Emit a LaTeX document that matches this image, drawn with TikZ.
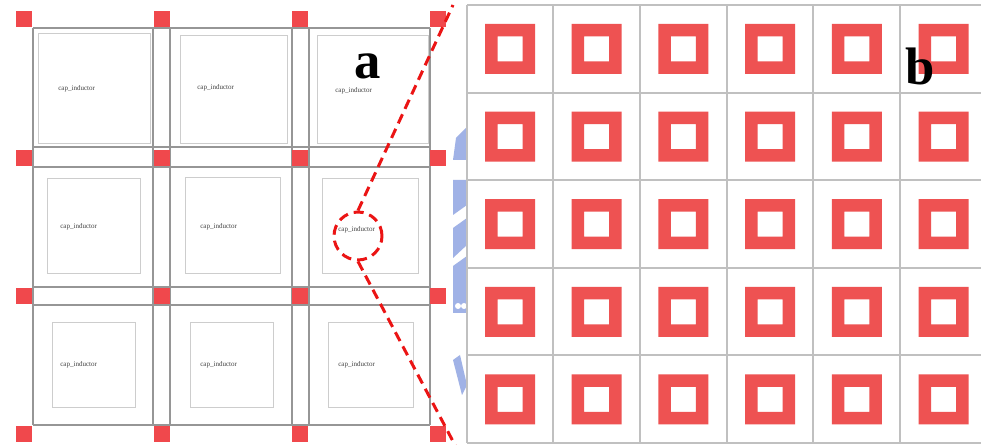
\documentclass[tikz,border=0pt]{standalone}
\usepackage{fontspec}
\setmainfont{Liberation Serif}
\usepackage{tikz}
\usetikzlibrary{positioning, calc}
\definecolor{padred}{RGB}{240,72,76}
\definecolor{ringred}{RGB}{238,82,82}
\definecolor{wire}{RGB}{150,150,150}
\definecolor{inner}{RGB}{205,205,205}
\definecolor{cellline}{RGB}{192,192,192}
\definecolor{markred}{RGB}{235,20,20}
\definecolor{logoblue}{RGB}{160,178,230}

\begin{document}
\begin{tikzpicture}[x=0.02cm, y=-0.02cm,
    every node/.style={font=\small},
    pad/.style={fill=padred},
    celltext/.style={anchor=west, inner sep=0pt, text=black!75, font=\fontsize{4}{4}\selectfont},
    panel/.style={font=\fontsize{30}{30}\selectfont\bfseries, inner sep=0pt},
    marker/.style={markred, line width=1.7pt, dash pattern=on 0.2cm off 0.12cm}]
    \useasboundingbox (0,0) rectangle (981,445);
    \fill[white] (0,0) rectangle (981,445);

    % logo fragment behind the panels
    \fill[logoblue] (453,160) -- (456,138) -- (467,127) -- (467,160) -- cycle;
    \fill[logoblue] (453,180) -- (467,180) -- (467,205) -- (453,215) -- cycle;
    \fill[logoblue] (453,228) -- (467,218) -- (467,245) -- (453,258) -- cycle;
    \fill[logoblue] (453,266) -- (467,256) -- (467,313) -- (453,313) -- cycle;
    \fill[white] (458,306) circle (3) (464,306) circle (3);
    \fill[logoblue] (453,360) -- (460,355) -- (467,385) -- (462,395) -- cycle;

    % Panel a: grid of cells
    \foreach \y in {28,147,167,287,305,425}
        \draw[wire, line width=1.1pt] (33,\y) -- (430,\y);
    \foreach \x in {33,153,170,292,309,430}
        \draw[wire, line width=1.1pt] (\x,28) -- (\x,425);

    % inner outlines
    \draw[inner, line width=0.5pt] (38,33) rectangle (150,143);
    \draw[inner, line width=0.5pt] (180,35) rectangle (287,143);
    \draw[inner, line width=0.5pt] (317,35) rectangle (428,143);
    \draw[inner, line width=0.5pt] (47,178) rectangle (140,273);
    \draw[inner, line width=0.5pt] (185,177) rectangle (280,273);
    \draw[inner, line width=0.5pt] (322,178) rectangle (418,273);
    \draw[inner, line width=0.5pt] (52,322) rectangle (135,407);
    \draw[inner, line width=0.5pt] (190,322) rectangle (273,407);
    \draw[inner, line width=0.5pt] (328,322) rectangle (413,407);

    % cell labels
    \node[celltext] (t11) at (58,89) {cap\_inductor};
    \node[celltext] (t12) at (197,88) {cap\_inductor};
    \node[celltext] (t13) at (335,91) {cap\_inductor};
    \node[celltext] (t21) at (60,227) {cap\_inductor};
    \node[celltext] (t22) at (200,227) {cap\_inductor};
    \node[celltext] (t23) at (338,230) {cap\_inductor};
    \node[celltext] (t31) at (60,365) {cap\_inductor};
    \node[celltext] (t32) at (200,365) {cap\_inductor};
    \node[celltext] (t33) at (338,365) {cap\_inductor};

    % corner pads
    \foreach \x in {24,162,300,438}
        \foreach \y in {19,158,296,434}
            \fill[pad] (\x-8,\y-8) rectangle (\x+8,\y+8);

    % Panel b: zoomed array
    \fill[white] (467,0) rectangle (981,445);
    \foreach \y in {5,93,180,268,355,443}
        \draw[cellline, line width=1.1pt] (467,\y) -- (981,\y);
    \foreach \x in {467,553,640,727,813,900}
        \draw[cellline, line width=1.1pt] (\x,5) -- (\x,443);
    \foreach \i in {0,...,5}
        \foreach \j in {0,...,4}
            \fill[ringred, even odd rule]
                (510+86.7*\i-25,49+87.6*\j-25) rectangle (510+86.7*\i+25,49+87.6*\j+25)
                (510+86.7*\i-12.5,49+87.6*\j-12.5) rectangle (510+86.7*\i+12.5,49+87.6*\j+12.5);

    % zoom marker
    \node[marker, draw, circle, minimum size=0.96cm, inner sep=0pt] (spot) at (358,236) {};
    \coordinate (upend) at (453,5);
    \coordinate (lowend) at (456,447);
    \draw[marker] (spot.north) -- (upend);
    \draw[marker] (spot.south) -- (lowend);

    % panel letters
    \node[panel] (pa) at (368,66) {a};
    \node[panel] (pb) at (920,66) {b};
\end{tikzpicture}
\end{document}
